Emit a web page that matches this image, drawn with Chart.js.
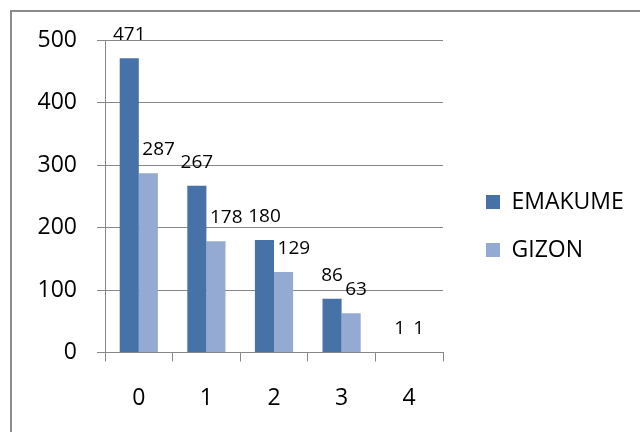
<!DOCTYPE html>
<html>
<head>
<meta charset="utf-8">
<script src="https://cdn.jsdelivr.net/npm/chart.js@4/dist/chart.umd.min.js"></script>
<style>
  html, body { margin: 0; padding: 0; background: #fff; overflow: hidden; }
  #frame { position: absolute; left: 10px; top: 10px; width: 700px; height: 500px;
           border-left: 2px solid #8b8b8b; border-top: 2px solid #8b8b8b; }
  #chart { position: absolute; left: 0; top: 0; }
</style>
</head>
<body>
<div id="frame"></div>
<canvas id="chart" width="640" height="432"></canvas>
<script>
// Categories and the two series
const categories = ['0', '1', '2', '3', '4'];
const seriesNames = ['EMAKUME', 'GIZON'];
const emakume = [471, 267, 180, 86, 1];
const gizon = [287, 178, 129, 63, 1];
const yTickValues = [0, 100, 200, 300, 400, 500];

const FONT = 'Open Sans';
const GRID = '#878787';
const TICK_SIZE = 23;
const LEGEND_SIZE = 23;
const VALUE_SIZE = 19;
const LEGEND_PAD = 25;
const LEGEND_BOX = 14;
const legendLeft = 461;
const plotRight = 443;

// Numbers written above each bar
const valueLabels = {
  id: 'valueLabels',
  afterDatasetsDraw(chart) {
    const ctx = chart.ctx;
    ctx.save();
    ctx.font = VALUE_SIZE + 'px "' + FONT + '"';
    ctx.fillStyle = '#000';
    ctx.textAlign = 'center';
    ctx.textBaseline = 'alphabetic';
    chart.data.datasets.forEach((ds, di) => {
      chart.getDatasetMeta(di).data.forEach((bar, i) => {
        const txt = String(ds.data[i]);
        let x = bar.x;
        if (di === 1) {
          const w = ctx.measureText(txt).width;
          x += Math.max(0, (w - 12) / 2);
        }
        ctx.fillText(txt, x, bar.y - 18);
      });
    });
    ctx.restore();
  }
};

function build() {
  // Legend width, so the plot ends where the legend column begins
  const mctx = document.createElement('canvas').getContext('2d');
  mctx.font = LEGEND_SIZE + 'px "' + FONT + '"';
  const legendTextW = Math.max(...seriesNames.map(s => mctx.measureText(s).width));
  const legendW = LEGEND_PAD + LEGEND_BOX + LEGEND_SIZE / 2 + legendTextW + 10;
  const padRight = Math.max(0, 640 - legendLeft - legendW);

  new Chart(document.getElementById('chart'), {
    type: 'bar',
    data: {
      labels: categories,
      datasets: [
        { label: seriesNames[0], data: emakume, backgroundColor: '#4672a8', borderWidth: 0 },
        { label: seriesNames[1], data: gizon, backgroundColor: '#95aad3', borderWidth: 0 }
      ]
    },
    options: {
      responsive: false,
      animation: false,
      devicePixelRatio: 1,
      categoryPercentage: 0.565,
      barPercentage: 1,
      layout: { padding: { left: 10, top: 40, bottom: 20, right: padRight } },
      plugins: {
        tooltip: { enabled: false },
        legend: {
          position: 'right',
          align: 'center',
          maxWidth: 400,
          labels: {
            boxWidth: LEGEND_BOX,
            boxHeight: LEGEND_BOX,
            padding: LEGEND_PAD,
            color: '#000',
            font: { family: FONT, size: LEGEND_SIZE }
          }
        }
      },
      scales: {
        x: {
          grid: { display: true, drawOnChartArea: false, drawTicks: true, tickLength: 9, color: GRID, lineWidth: 1 },
          border: { display: true, color: GRID, width: 1 },
          ticks: { color: '#000', padding: 23, font: { family: FONT, size: TICK_SIZE } },
          afterFit(s) { s.height = 432 - 20 - 352.5; }
        },
        y: {
          min: 0,
          max: 500,
          afterBuildTicks(s) { s.ticks = yTickValues.map(v => ({ value: v })); },
          grid: { color: GRID, lineWidth: 1, tickLength: 8, drawTicks: true },
          border: { display: true, color: GRID, width: 1 },
          ticks: { color: '#000', padding: 20, font: { family: FONT, size: TICK_SIZE } },
          afterFit(s) { s.width = 105 - 10; }
        },
        gap: {
          type: 'linear',
          position: 'right',
          display: true,
          grid: { display: false },
          border: { display: false },
          ticks: { display: false },
          afterFit(s) { s.width = legendLeft - plotRight; }
        }
      }
    },
    plugins: [valueLabels]
  });
}

document.fonts.load(LEGEND_SIZE + 'px "' + FONT + '"', 'EMAKUME GIZON 0123456789').then(build, build);
</script>
</body>
</html>
